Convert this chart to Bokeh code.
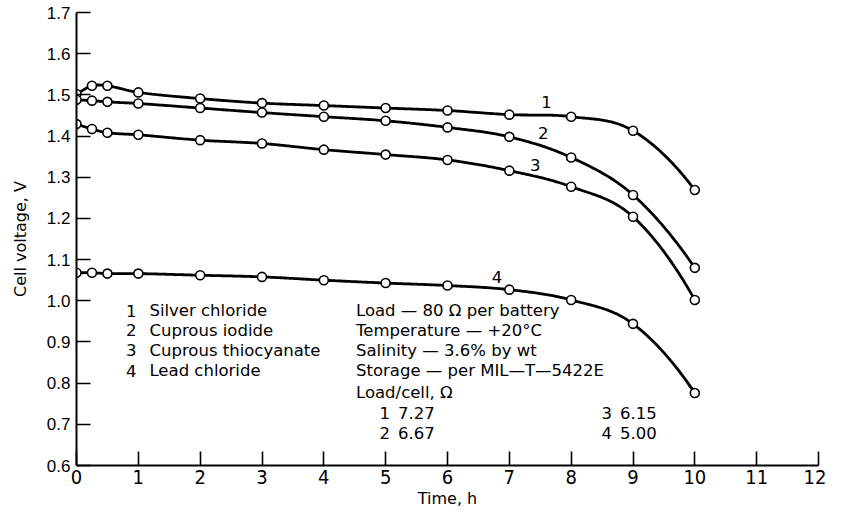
import numpy as np
from bokeh.plotting import figure
from bokeh.models import Label, FixedTicker, Range1d
from bokeh.embed import file_html
from bokeh.resources import INLINE

# ---- data ----
time_h = [0, 0.25, 0.5, 1, 2, 3, 4, 5, 6, 7, 8, 9, 10]
silver_chloride = [1.502, 1.522, 1.522, 1.506, 1.491, 1.480, 1.474, 1.468, 1.462, 1.452, 1.447, 1.413, 1.269]
cuprous_iodide = [1.488, 1.486, 1.483, 1.479, 1.468, 1.457, 1.447, 1.437, 1.421, 1.398, 1.348, 1.257, 1.080]
cuprous_thiocyanate = [1.429, 1.417, 1.408, 1.403, 1.390, 1.382, 1.367, 1.355, 1.342, 1.316, 1.277, 1.204, 1.002]
lead_chloride = [1.068, 1.068, 1.066, 1.066, 1.062, 1.058, 1.050, 1.043, 1.037, 1.027, 1.002, 0.944, 0.776]
series = [silver_chloride, cuprous_iodide, cuprous_thiocyanate, lead_chloride]
series_ids = ["1", "2", "3", "4"]
series_names = ["Silver chloride", "Cuprous iodide", "Cuprous thiocyanate", "Lead chloride"]
x_ticks = list(range(0, 13))
y_ticks = [0.6, 0.7, 0.8, 0.9, 1.0, 1.1, 1.2, 1.3, 1.4, 1.5, 1.6, 1.7]
conditions = ["Load \u2014 80 \u03a9 per battery", "Temperature \u2014 +20\u00b0C",
              "Salinity \u2014 3.6% by wt", "Storage \u2014 per MIL\u2014T\u20145422E",
              "Load/cell, \u03a9"]
load_cell_ids = ["1", "2", "3", "4"]
load_cell_values = ["7.27", "6.67", "6.15", "5.00"]

TXT_FONT = "DejaVu Sans"
TXT_SIZE = "16.5px"
NARROW = "'Liberation Sans Narrow', 'DejaVu Sans Condensed', 'Liberation Sans', sans-serif"


def smooth_path(x, y, n=40):
    """Cubic Hermite (Catmull-Rom style) drawing path through the data points."""
    x = np.asarray(x, float); y = np.asarray(y, float)
    h = np.diff(x); d = np.diff(y) / h
    m = np.zeros_like(y)
    for i in range(1, len(x) - 1):
        m[i] = (y[i + 1] - y[i - 1]) / (x[i + 1] - x[i - 1])
    m[0] = d[0]
    m[-1] = d[-1] + 0.5 * (d[-1] - d[-2])
    xs, ys = [], []
    for i in range(len(x) - 1):
        t = np.linspace(0, 1, n, endpoint=(i == len(x) - 2))
        h00 = 2 * t**3 - 3 * t**2 + 1; h10 = t**3 - 2 * t**2 + t
        h01 = -2 * t**3 + 3 * t**2; h11 = t**3 - t**2
        xs.extend(x[i] + t * h[i])
        ys.extend(h00 * y[i] + h10 * h[i] * m[i] + h01 * y[i + 1] + h11 * h[i] * m[i + 1])
    return xs, ys


p = figure(width=826, height=510, output_backend="svg", toolbar_location=None,
           x_range=Range1d(0, 12), y_range=Range1d(0.6, 1.7),
           min_border_left=76, min_border_right=8, min_border_top=12, min_border_bottom=45)
p.outline_line_color = None
p.xgrid.visible = False
p.ygrid.visible = False
p.background_fill_color = "white"
p.border_fill_color = "white"

for ax in (p.xaxis[0], p.yaxis[0]):
    ax.axis_line_width = 2
    ax.axis_line_color = "black"
    ax.major_tick_in = 14
    ax.major_tick_out = 0
    ax.major_tick_line_width = 1.6
    ax.minor_tick_line_color = None
    ax.major_label_text_color = "black"
    ax.axis_label_text_font = TXT_FONT
    ax.axis_label_text_font_size = "16px"
    ax.axis_label_text_font_style = "normal"
    ax.axis_label_text_color = "black"

p.xaxis.ticker = FixedTicker(ticks=x_ticks)
p.yaxis.ticker = FixedTicker(ticks=y_ticks)
p.yaxis.major_label_overrides = {v: f"{v:.1f}" for v in y_ticks}
p.xaxis.major_label_text_font = NARROW
p.xaxis.major_label_text_font_size = "20px"
p.yaxis.major_label_text_font = "Liberation Sans"
p.yaxis.major_label_text_font_size = "17px"
p.xaxis.axis_label = "Time, h"
p.yaxis.axis_label = "Cell voltage, V"
p.xaxis.major_label_standoff = 4
p.yaxis.major_label_standoff = 6
p.xaxis.axis_label_standoff = 2
p.yaxis.axis_label_standoff = 14

for s in series:
    xs, ys = smooth_path(time_h, s)
    p.line(xs, ys, line_color="black", line_width=2.8)
    p.scatter(time_h, s, size=9, marker="circle", fill_color="white",
              line_color="black", line_width=1.6)

# curve number labels
curve_label_pos = [(7.6, 1.482), (7.55, 1.407), (7.42, 1.330), (6.8, 1.057)]
for sid, (lx, ly) in zip(series_ids, curve_label_pos):
    p.add_layout(Label(x=lx, y=ly, text=sid, text_font=TXT_FONT, text_font_size=TXT_SIZE,
                       text_align="center", text_baseline="middle", text_color="black"))

row_y = [0.976, 0.928, 0.880, 0.830, 0.778, 0.728, 0.680]

for i, (sid, name) in enumerate(zip(series_ids, series_names)):
    p.add_layout(Label(x=0.80, y=row_y[i], text=sid, text_font=TXT_FONT, text_font_size=TXT_SIZE,
                       text_baseline="middle", text_color="black"))
    p.add_layout(Label(x=1.18, y=row_y[i], text=name, text_font=TXT_FONT, text_font_size=TXT_SIZE,
                       text_baseline="middle", text_color="black"))

for i, txt in enumerate(conditions):
    p.add_layout(Label(x=4.52, y=row_y[i], text=txt, text_font=TXT_FONT, text_font_size=TXT_SIZE,
                       text_baseline="middle", text_color="black"))

lc_pos = [(4.90, row_y[5]), (4.90, row_y[6]), (8.49, row_y[5]), (8.49, row_y[6])]
for sid, val, (lx, ly) in zip(load_cell_ids, load_cell_values, lc_pos):
    p.add_layout(Label(x=lx, y=ly, text=sid, text_font=TXT_FONT, text_font_size=TXT_SIZE,
                       text_baseline="middle", text_color="black"))
    p.add_layout(Label(x=lx + 0.30, y=ly, text=val, text_font=TXT_FONT, text_font_size=TXT_SIZE,
                       text_baseline="middle", text_color="black"))

open("out.html", "w").write(file_html(p, INLINE))
